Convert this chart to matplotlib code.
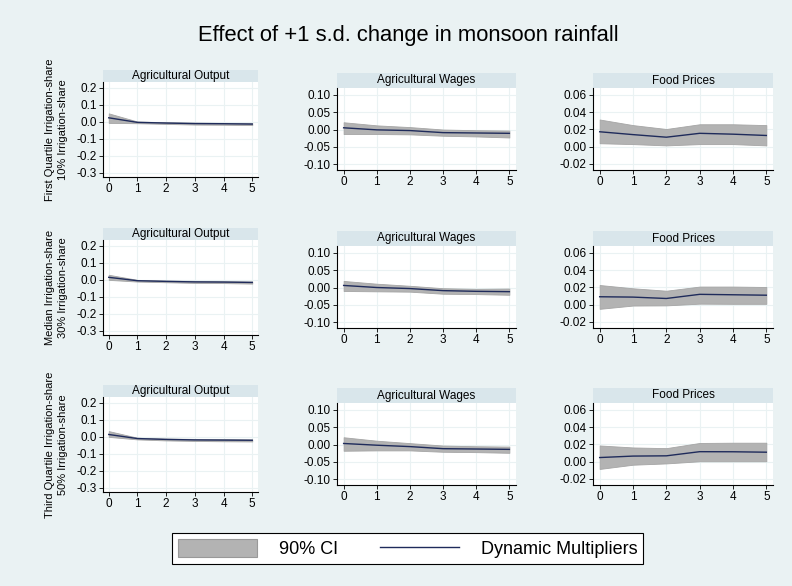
import numpy as np
import matplotlib.pyplot as plt
from matplotlib.patches import Patch
from matplotlib.lines import Line2D

plt.rcParams['font.family'] = ['Liberation Sans', 'DejaVu Sans']

# horizon (years after shock)
horizon = [0, 1, 2, 3, 4, 5]

row_labels = ["First Quartile Irrigation-share\n10% Irrigation-share",
              "Median Irrigation-share\n30% Irrigation-share",
              "Third Quartile Irrigation-share\n50% Irrigation-share"]
panel_titles = ["Agricultural Output", "Agricultural Wages", "Food Prices"]

# Agricultural output: point estimate, lower and upper 90% CI
out_mid = [[0.024, -0.003, -0.007, -0.010, -0.011, -0.013],
           [0.015, -0.005, -0.009, -0.012, -0.013, -0.015],
           [0.014, -0.010, -0.015, -0.018, -0.019, -0.020]]
out_lo = [[-0.006, -0.008, -0.012, -0.016, -0.017, -0.019],
          [0.000, -0.010, -0.014, -0.018, -0.019, -0.022],
          [0.000, -0.015, -0.021, -0.024, -0.026, -0.027]]
out_hi = [[0.050, 0.002, -0.002, -0.005, -0.006, -0.007],
          [0.030, 0.000, -0.004, -0.006, -0.008, -0.010],
          [0.034, -0.005, -0.010, -0.012, -0.013, -0.015]]

# Agricultural wages
wage_mid = [[0.005, -0.001, -0.003, -0.009, -0.010, -0.011],
            [0.006, 0.000, -0.003, -0.009, -0.011, -0.012],
            [0.003, -0.002, -0.006, -0.012, -0.013, -0.014]]
wage_lo = [[-0.013, -0.013, -0.014, -0.018, -0.020, -0.023],
           [-0.010, -0.011, -0.012, -0.018, -0.019, -0.021],
           [-0.018, -0.017, -0.017, -0.021, -0.022, -0.024]]
wage_hi = [[0.021, 0.012, 0.007, 0.000, -0.002, -0.003],
           [0.019, 0.011, 0.005, -0.002, -0.004, -0.003],
           [0.021, 0.011, 0.004, -0.003, -0.005, -0.006]]

# Food prices
food_mid = [[0.0173, 0.014, 0.011, 0.0155, 0.0145, 0.013],
            [0.0092, 0.0088, 0.0072, 0.012, 0.0115, 0.011],
            [0.0048, 0.0065, 0.0068, 0.0116, 0.0115, 0.011]]
food_lo = [[0.004, 0.003, 0.0015, 0.003, 0.003, 0.0015],
           [-0.0048, -0.001, -0.0008, 0.0012, 0.001, 0.001],
           [-0.0084, -0.0035, -0.002, 0.0005, 0.0005, 0.0005]]
food_hi = [[0.0315, 0.025, 0.0205, 0.026, 0.026, 0.025],
           [0.0228, 0.019, 0.0162, 0.021, 0.021, 0.0205],
           [0.0188, 0.0165, 0.0157, 0.0217, 0.022, 0.022]]

series = [(out_mid, out_lo, out_hi), (wage_mid, wage_lo, wage_hi), (food_mid, food_lo, food_hi)]
yticks = [[0.2, 0.1, 0.0, -0.1, -0.2, -0.3],
          [0.10, 0.05, 0.00, -0.05, -0.10],
          [0.06, 0.04, 0.02, 0.00, -0.02]]
yfmt = ["{:.1f}", "{:.2f}", "{:.2f}"]
ylims = [(-0.325, 0.235), (-0.117, 0.12), (-0.027, 0.068)]

BG = "#EAF2F3"
STRIP = "#D9E6EB"
CI = "#B3B3B3"
LINE = "#1F2B5B"

W, H = 792, 586
fig = plt.figure(figsize=(W / 100, H / 100), dpi=100, facecolor=BG)

def px_axes(x0, y0, x1, y1):
    return fig.add_axes([x0 / W, 1 - y1 / H, (x1 - x0) / W, (y1 - y0) / H])

# pixel layout per column: left, right, strip height, plot height, vertical offset
cols = [(103, 258, 12, 95, 0), (337, 516, 15, 82, 3), (593, 773, 15, 82, 3)]
row_tops = [70, 228, 385]

for r in range(3):
    for c in range(3):
        x0, x1, sh, ph, off = cols[c]
        top = row_tops[r] + off
        sax = px_axes(x0, top, x1, top + sh)
        sax.set_facecolor(STRIP)
        sax.set_xticks([]); sax.set_yticks([])
        for s in sax.spines.values():
            s.set_visible(False)
        sax.text(0.5, 0.5, panel_titles[c], ha="center", va="center", fontsize=8.5, transform=sax.transAxes)

        ax = px_axes(x0, top + sh, x1, top + sh + ph)
        mid, lo, hi = series[c]
        ax.fill_between(horizon, lo[r], hi[r], color=CI, edgecolor="#A5A5A5", lw=0.6, zorder=2)
        ax.plot(horizon, mid[r], color=LINE, lw=1.0, zorder=3)
        ax.set_xlim(-0.2, 5.2)
        ax.set_ylim(*ylims[c])
        ax.set_xticks(horizon)
        ax.set_yticks(yticks[c])
        ax.set_yticklabels([yfmt[c].format(v) for v in yticks[c]])
        ax.tick_params(labelsize=8.5, length=3, width=0.6, pad=1.5)
        ax.grid(True, color=BG, lw=0.8, zorder=0)
        ax.set_axisbelow(True)
        ax.spines["top"].set_visible(False)
        ax.spines["right"].set_visible(False)
        ax.spines["left"].set_linewidth(0.8)
        ax.spines["bottom"].set_linewidth(0.8)
        if c == 0:
            ax.set_ylabel(row_labels[r], fontsize=8, labelpad=6, linespacing=1.4)

fig.text(408 / W, 1 - 35 / H, "Effect of +1 s.d. change in monsoon rainfall",
         fontsize=15.8, ha="center", va="center")

handles = [Patch(facecolor=CI, edgecolor="#999999", lw=0.8),
           Line2D([0], [0], color=LINE, lw=1.0)]
leg = fig.legend(handles, ["90% CI", "Dynamic Multipliers"], loc="center", ncol=2,
                 bbox_to_anchor=(407.5 / W, 1 - 548.5 / H), fontsize=13,
                 handlelength=4.4, handleheight=1.2, columnspacing=2.3, handletextpad=1.2,
                 fancybox=False, framealpha=1, edgecolor="black", borderpad=0.3)
leg.get_frame().set_linewidth(0.8)

fig.savefig("out.png", dpi=100, facecolor=BG)
